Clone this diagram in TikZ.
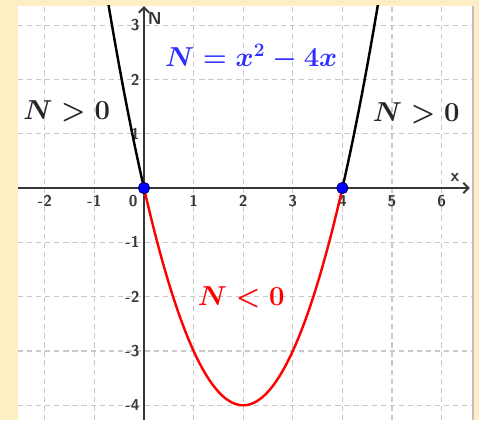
\documentclass[tikz,border=0pt]{standalone}
\usetikzlibrary{arrows.meta}

\definecolor{paper}{RGB}{253,238,196}
\definecolor{eqblue}{RGB}{45,45,255}
\definecolor{gridgray}{RGB}{200,200,200}
\definecolor{axisgray}{RGB}{55,55,55}

\newcommand{\signtext}[1]{\scalebox{0.91}{#1}}

\tikzset{
  gridline/.style={gridgray, dash pattern=on 3pt off 2.2pt, line width=0.6pt},
  axisline/.style={axisgray, line width=1.1pt, -{Straight Barb[length=3pt,width=6pt]}},
  ticklabel/.style={font=\small\sffamily\bfseries, text=axisgray, inner sep=1pt},
  axislabel/.style={font=\normalsize\sffamily\bfseries, text=axisgray, inner sep=1pt},
  rootdot/.style={circle, fill=blue, draw=blue!40!black, line width=0.5pt, inner sep=0pt, minimum size=6.5pt},
  signlabel/.style={font=\LARGE\boldmath, anchor=base, inner sep=0pt}
}

\begin{document}
\begin{tikzpicture}[x=1cm, y=1.095cm]
% frame and plot area
\useasboundingbox[fill=paper] (-2.903,-4.273) rectangle (6.754,3.462);
\fill[white] (-2.54,-4.273) rectangle (6.633,3.352);
\draw[gray!50, line width=0.8pt] (6.633,-4.273) -- (6.633,3.352);

% grid
\foreach \x in {-2,-1,1,2,3,4,5,6}
  \draw[gridline] (\x,-4.273) -- (\x,3.352);
\foreach \y in {-4,-3,-2,-1,1,2,3}
  \draw[gridline] (-2.54,\y) -- (6.633,\y);

% tick labels
\foreach \x in {-2,-1,1,2,3,4,5,6}
  \node[ticklabel] (xt\x) at (\x,-0.24) {\x};
\node[ticklabel] (xt0) at (-0.22,-0.24) {0};
\foreach \y in {-4,-3,-2,-1,1,2,3}
  \node[ticklabel, anchor=east] (yt\y) at (-0.05,\y) {\y};

% axes
\coordinate (xstart) at (-2.54,0);
\coordinate (xend) at (6.57,0);
\coordinate (ystart) at (0,-4.273);
\coordinate (yend) at (0,3.35);
\draw[axisline] (xstart) -- (xend);
\draw[axisline] (ystart) -- (yend);
\node[axislabel] (xname) at (6.27,0.2) {x};
\node[axislabel] (yname) at (0.22,3.13) {N};

% parabola
\begin{scope}
\clip (-2.54,-4.273) rectangle (6.633,3.352);
\draw[black, line width=1.4pt, domain=-0.75:0, samples=30] plot (\x,{\x*\x-4*\x});
\draw[black, line width=1.4pt, domain=4:4.75, samples=30] plot (\x,{\x*\x-4*\x});
\draw[red, line width=1.4pt, domain=0:4, samples=80] plot (\x,{\x*\x-4*\x});
\end{scope}

% zeros
\node[rootdot] (rootA) at (0,0) {};
\node[rootdot] (rootB) at (4,0) {};

% labels
\node[signlabel, text=eqblue] (formula) at (2.16,2.23) {\signtext{$N=x^2-4x$}};
\node[signlabel, text=black!85] (posleft) at (-1.56,1.27) {\signtext{$N>0$}};
\node[signlabel, text=black!85] (posright) at (5.49,1.22) {\signtext{$N>0$}};
\node[signlabel, text=red] (neg) at (1.96,-2.155) {\signtext{$N<0$}};
\end{tikzpicture}
\end{document}
